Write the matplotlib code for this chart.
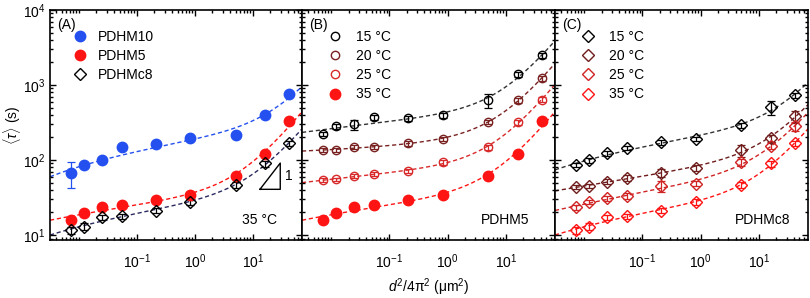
import numpy as np
import matplotlib
matplotlib.use("Agg")
import matplotlib.pyplot as plt
from matplotlib.lines import Line2D
from matplotlib.ticker import FixedLocator, LogLocator, LogFormatterSciNotation, NullFormatter

plt.rcParams['font.family'] = ['Liberation Sans', 'DejaVu Sans']
plt.rcParams['mathtext.fontset'] = 'custom'
plt.rcParams['mathtext.rm'] = 'Liberation Sans'
plt.rcParams['mathtext.it'] = 'Liberation Sans:italic'
plt.rcParams['font.size'] = 10

# d^2/4pi^2 (um^2), same for every series
q = [0.0072, 0.012, 0.025, 0.055, 0.21, 0.82, 5.0, 16, 42]

# panel A, 35 C
pdhm10 = [68, 86, 100, 148, 164, 198, 219, 394, 758]
pdhm10_err = [25, 6, 6, 8, 8, 10, 12, 25, 45]
pdhm5 = [16.1, 19.4, 23.5, 25, 29.8, 33.9, 61.5, 120, 327]
pdhm5_err = [1.2, 1.4, 1.8, 1.8, 2, 2.5, 4, 8, 20]
pdhmc8 = [11.7, 13, 17.3, 17.8, 21.2, 27.7, 46.4, 90, 167]
pdhmc8_err = [1.3, 1.3, 1.5, 1.5, 1.8, 2.2, 4, 8, 15]

# panel B, PDHM5
b15 = [224, 281, 299, 374, 363, 394, 628, 1393, 2477]
b15_err = [15, 18, 45, 30, 28, 25, 140, 110, 200]
b20 = [136, 136, 148, 151, 167, 192, 321, 628, 1232]
b20_err = [8, 8, 9, 9, 11, 12, 22, 45, 90]
b25 = [53.8, 55.5, 61.5, 64.7, 71.8, 92.8, 148, 321, 641]
b25_err = [3, 3, 3.5, 4, 5, 6, 12, 25, 50]

# panel C, PDHMc8
c15 = [86.5, 100, 123, 145, 172, 192, 289, 510, 733]
c15_err = [6, 8, 10, 10, 12, 12, 25, 110, 60]
c20 = [43.7, 45, 51.5, 57.3, 68, 79.4, 136, 195, 383]
c20_err = [3, 3, 4, 5, 9, 7, 25, 20, 70]
c25 = [23.5, 27.7, 30.8, 33.1, 45, 48.5, 92.9, 155, 281]
c25_err = [2, 2, 2.5, 3, 8, 4, 10, 15, 40]

temps = ['15 °C', '20 °C', '25 °C', '35 °C']
col15, col20, col25, col35 = 'black', '#7a2222', '#d82a2a', '#ff1414'
blue = '#2450f0'
navy = '#2a2a60'

XLIM = (10 ** -2.5, 10 ** 1.845)
YLIM = (8.6, 1.0e4)


def fit_line(x, y):
    # tau = A x^p + B x + C, least squares in relative error
    x = np.asarray(x, float)
    y = np.asarray(y, float)
    best = None
    for p in np.linspace(0.05, 0.9, 171):
        M = np.column_stack([x ** p, x, np.ones_like(x)]) / y[:, None]
        coef, *_ = np.linalg.lstsq(M, np.ones_like(y), rcond=None)
        pred = coef[0] * x ** p + coef[1] * x + coef[2]
        if np.any(pred <= 0):
            continue
        r = np.sum(np.log(pred / y) ** 2)
        if best is None or r < best[0]:
            best = (r, p, coef)
    _, p, coef = best
    xs = np.logspace(np.log10(XLIM[0]), np.log10(XLIM[1]), 300)
    ys = coef[0] * xs ** p + coef[1] * xs + coef[2]
    ys = np.where(ys > 0, ys, np.nan)
    return xs, ys


def series(ax, y, err, marker, color, line_color, filled, ms):
    xs, ys = fit_line(q, y)
    ax.plot(xs, ys, ls=(0, (3, 2)), lw=1.0, color=line_color, zorder=1)
    ax.errorbar(q, y, yerr=err, fmt='none', ecolor=color, elinewidth=0.9,
                capsize=3, capthick=0.9, zorder=2)
    ax.plot(q, y, ls='none', marker=marker, ms=ms, mec=color, mew=1.0,
            mfc=color if filled else 'none', zorder=3)


def handle(marker, color, filled, ms):
    return Line2D([], [], ls='none', marker=marker, ms=ms, mec=color, mew=1.0,
                  mfc=color if filled else 'none')


fig = plt.figure(figsize=(8.1, 2.98), dpi=100)
W, H = 810, 298
axA = fig.add_axes([50 / W, 58 / H, 252 / W, 230 / H])
axB = fig.add_axes([302 / W, 58 / H, 253 / W, 230 / H])
axC = fig.add_axes([555 / W, 58 / H, 253 / W, 230 / H])

# panel A
series(axA, pdhm10, pdhm10_err, 'o', blue, blue, True, 7.5)
series(axA, pdhm5, pdhm5_err, 'o', col35, col35, True, 7.5)
series(axA, pdhmc8, pdhmc8_err, 'D', 'black', navy, False, 6)
axA.legend([handle('o', blue, True, 7.5), handle('o', col35, True, 7.5),
            handle('D', 'black', False, 6)],
           ['PDHM10', 'PDHM5', 'PDHMc8'], loc='upper left',
           bbox_to_anchor=(0.065, 0.945), frameon=False, borderpad=0,
           handlelength=1.0, handletextpad=0.8, labelspacing=0.38)
# slope triangle
tx = [10 ** 1.12, 10 ** 1.47, 10 ** 1.47, 10 ** 1.12]
ty = [10 ** 1.61, 10 ** 1.61, 10 ** 1.96, 10 ** 1.61]
axA.plot(tx, ty, color='black', lw=1.0)
axA.text(10 ** 1.56, 10 ** 1.785, '1', ha='left', va='center')
axA.text(0.03, 0.965, '(A)', transform=axA.transAxes, ha='left', va='top')
axA.text(0.9, 0.085, '35 °C', transform=axA.transAxes, ha='right', va='center')

# panel B
series(axB, b15, b15_err, 'o', col15, '#333333', False, 6)
series(axB, b20, b20_err, 'o', col20, col20, False, 6)
series(axB, b25, b25_err, 'o', col25, col25, False, 6)
series(axB, pdhm5, pdhm5_err, 'o', col35, col35, True, 7.5)
axB.legend([handle('o', col15, False, 6), handle('o', col20, False, 6),
            handle('o', col25, False, 6), handle('o', col35, True, 7.5)],
           temps, loc='upper left', bbox_to_anchor=(0.075, 0.945),
           frameon=False, borderpad=0, handlelength=1.0, handletextpad=1.0,
           labelspacing=0.38)
axB.text(0.03, 0.965, '(B)', transform=axB.transAxes, ha='left', va='top')
axB.text(0.9, 0.085, 'PDHM5', transform=axB.transAxes, ha='right', va='center')

# panel C
series(axC, c15, c15_err, 'D', col15, '#333333', False, 6)
series(axC, c20, c20_err, 'D', '#6e1c1c', '#6e1c1c', False, 6)
series(axC, c25, c25_err, 'D', '#d02424', '#d02424', False, 6)
series(axC, pdhmc8, pdhmc8_err, 'D', col35, col35, False, 6)
axC.legend([handle('D', col15, False, 6), handle('D', '#6e1c1c', False, 6),
            handle('D', '#d02424', False, 6), handle('D', col35, False, 6)],
           temps, loc='upper left', bbox_to_anchor=(0.075, 0.945),
           frameon=False, borderpad=0, handlelength=1.0, handletextpad=1.0,
           labelspacing=0.38)
axC.text(0.03, 0.965, '(C)', transform=axC.transAxes, ha='left', va='top')
axC.text(0.93, 0.085, 'PDHMc8', transform=axC.transAxes, ha='right', va='center')

for ax in (axA, axB, axC):
    ax.set_xscale('log')
    ax.set_yscale('log')
    ax.set_xlim(*XLIM)
    ax.set_ylim(*YLIM)
    ax.xaxis.set_major_locator(FixedLocator([0.1, 1, 10]))
    ax.xaxis.set_major_formatter(LogFormatterSciNotation())
    ax.xaxis.set_minor_locator(LogLocator(base=10, subs=np.arange(1, 10), numticks=20))
    ax.xaxis.set_minor_formatter(NullFormatter())
    ax.yaxis.set_major_locator(LogLocator(base=10, numticks=10))
    ax.yaxis.set_minor_locator(LogLocator(base=10, subs=np.arange(2, 10), numticks=20))
    ax.yaxis.set_minor_formatter(NullFormatter())
    ax.tick_params(which='both', direction='in', top=True, right=True, width=1.0,
                   labelsize=10)
    ax.tick_params(which='major', length=4.5)
    ax.tick_params(which='minor', length=2.5)
    ax.tick_params(axis='x', which='major', pad=9)
    for s in ax.spines.values():
        s.set_linewidth(1.2)

for ax in (axB, axC):
    ax.tick_params(labelleft=False)

axA.set_ylabel(r'$\langle\tau\rangle$ (s)')
axA.yaxis.set_label_coords(-0.108, 0.5)
axB.set_xlabel(r'$d^2$/4π$^2$ (μm$^2$)', labelpad=4)

fig.savefig('out.png', dpi=100)
